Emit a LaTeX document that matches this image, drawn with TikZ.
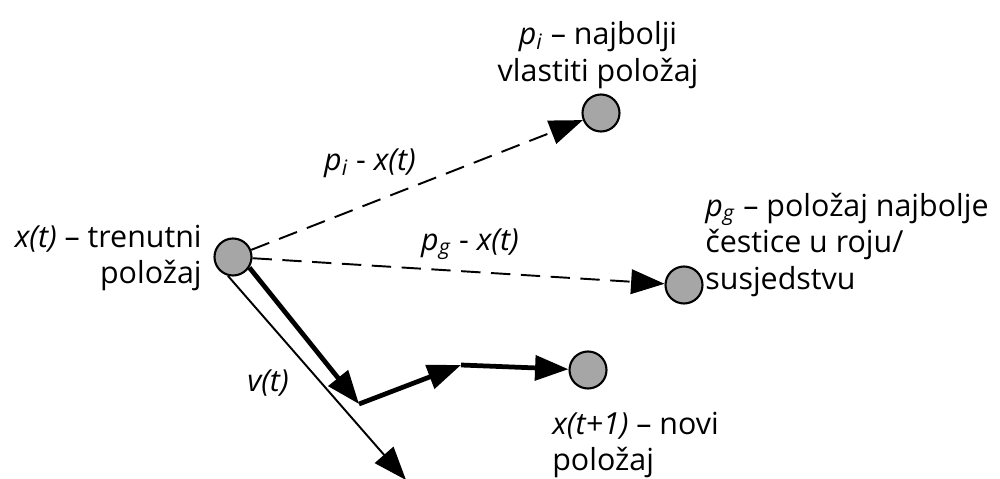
\documentclass[tikz,border=0pt]{standalone}
\usepackage{fontspec}
\setmainfont{Open Sans}
\usetikzlibrary{arrows.meta}
\definecolor{dotgray}{HTML}{A6A6A6}
\begin{document}
\begin{tikzpicture}[x=0.02cm,y=-0.02cm,
  dot/.style={circle,draw=black,line width=1.2pt,fill=dotgray,minimum size=0.74cm,inner sep=0pt},
  lbl/.style={font=\fontsize{17.3}{21}\selectfont,inner sep=0pt},
  tip/.style={-{Triangle[length=19pt,width=14pt]}},
  dashline/.style={tip,line width=1.1pt,dash pattern=on 11pt off 6pt},
  thickline/.style={tip,line width=2.7pt},
  thinline/.style={tip,line width=1.1pt}]
\useasboundingbox (0,0) rectangle (1000,479);
\node[dot] (c0) at (233,257) {};
\node[dot] (ci) at (601,113) {};
\node[dot] (cg) at (684,285) {};
\node[dot] (cn) at (588,370) {};
\coordinate (k1) at (359,404);
\coordinate (k2) at (461,365);
\coordinate (vt) at (406,480);
\draw[dashline] (c0) -- (ci);
\draw[dashline] (c0) -- (cg);
\draw[thickline] (c0.-33) -- (k1);
\draw[thickline] (k1) -- (k2);
\draw[thickline] (k2) -- (cn);
\draw[thinline] (c0.-105) -- (vt);
\node[lbl,align=center] (li) at (598,55) {\textit{p}\textsubscript{\textit{i}} – najbolji\\vlastiti položaj};
\node[lbl] (ldi) at (370,163) {\textit{p}\textsubscript{\textit{i}} - \textit{x(t)}};
\node[lbl,align=right,anchor=east] (l0) at (202,258) {\textit{x(t)} – trenutni\\položaj};
\node[lbl] (ldg) at (470,244) {\textit{p}\textsubscript{\textit{g}} - \textit{x(t)}};
\node[lbl,align=left,anchor=west] (lg) at (705,245) {\textit{p}\textsubscript{\textit{g}} – položaj najbolje\\čestice u roju/\\susjedstvu};
\node[lbl] (lv) at (268,383) {\textit{v(t)}};
\node[lbl,align=left,anchor=west] (ln) at (552,445) {\textit{x(t+1)} – novi\\položaj};
\end{tikzpicture}
\end{document}
